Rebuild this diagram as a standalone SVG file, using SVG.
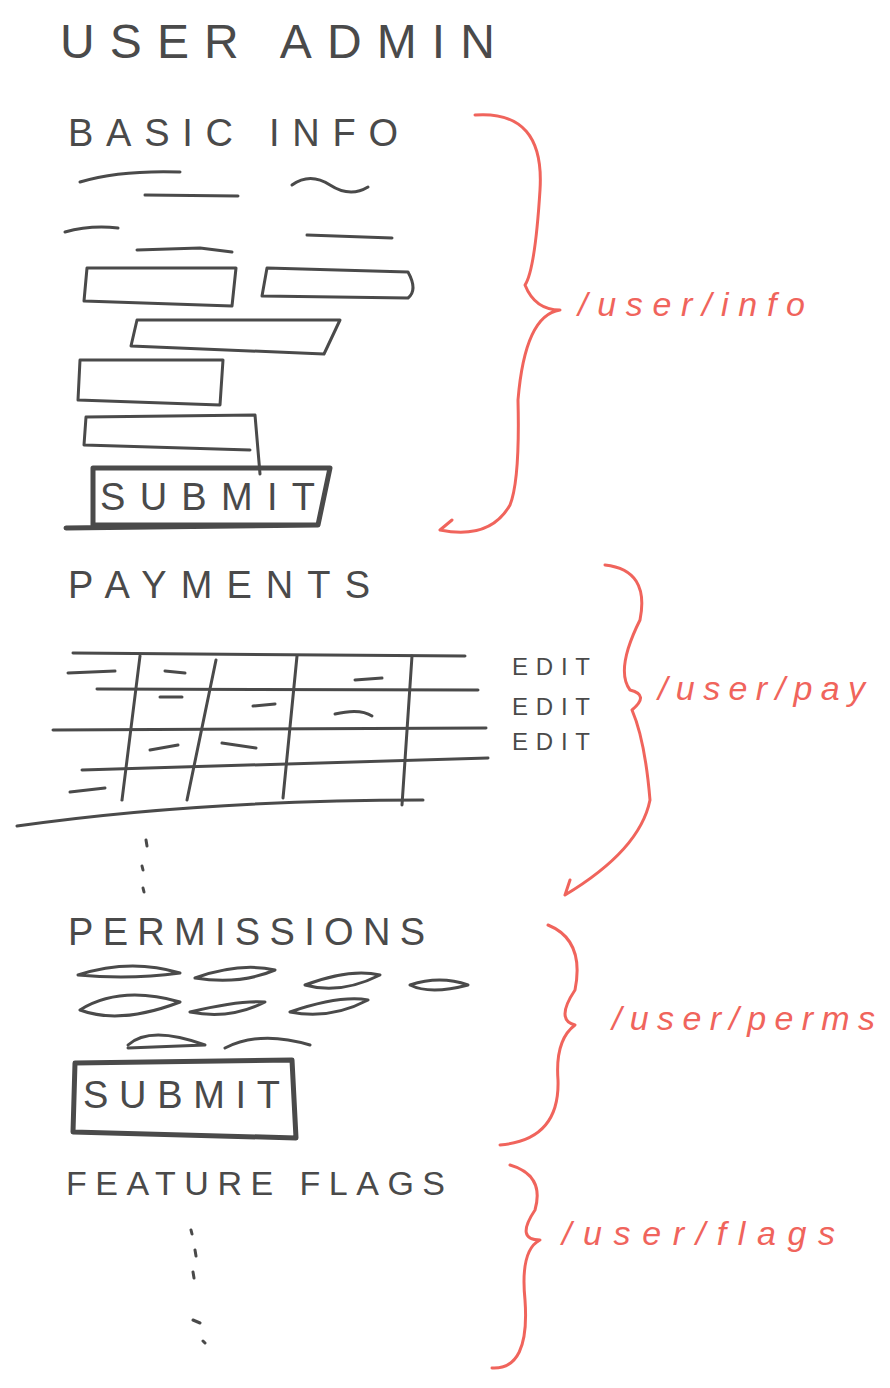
<svg xmlns="http://www.w3.org/2000/svg" width="890" height="1388" viewBox="0 0 890 1388">
<style>
.g{fill:none;stroke:#4a4a4a;stroke-width:3;stroke-linecap:round;stroke-linejoin:round}
.b{fill:none;stroke:#4a4a4a;stroke-width:5;stroke-linecap:round;stroke-linejoin:round}
.r{fill:none;stroke:#f0645c;stroke-width:3;stroke-linecap:round;stroke-linejoin:round}
.t{font-family:"Liberation Sans",sans-serif;fill:#4a4a4a}
.rt{font-family:"Liberation Sans",sans-serif;fill:#f0645c;font-style:italic}
</style>
<rect width="890" height="1388" fill="#fff"/>
<text class="t" x="60" y="58" font-size="48" textLength="435" lengthAdjust="spacing">USER ADMIN</text>
<text class="t" x="68" y="146" font-size="38" textLength="330" lengthAdjust="spacing">BASIC INFO</text>
<g class="g">
<path d="M80 182 Q120 170 180 172"/><path d="M145 195 L238 196"/><path d="M292 185 Q310 172 330 185 T368 187"/>
<path d="M65 232 Q90 225 118 228"/><path d="M137 250 L200 248 L232 252"/><path d="M307 235 L392 238"/>
<path d="M87 268 L236 268 L232 306 L84 301 Z"/><path d="M267 268 L408 272 Q418 290 408 298 L262 296 Z"/>
<path d="M137 320 L340 320 L324 354 L131 346 Z"/><path d="M80 360 L223 360 L220 405 L78 400 Z"/>
<path d="M86 417 L255 415 L260 474 M86 417 L84 445 L250 450"/>
</g>
<path class="b" d="M93 468 L330 468 L318 525 L93 525 Z M66 528 L318 525"/>
<text class="t" x="100" y="510" font-size="38" textLength="215" lengthAdjust="spacing">SUBMIT</text>
<text class="t" x="68" y="598" font-size="38" textLength="302" lengthAdjust="spacing">PAYMENTS</text>
<g class="g">
<path d="M73 653 L465 656"/><path d="M97 689 L478 690"/><path d="M53 730 L486 728"/><path d="M82 770 L488 758"/><path d="M17 826 Q200 800 423 800"/>
<path d="M140 656 L122 800"/><path d="M216 660 L187 800"/><path d="M297 656 L283 798"/><path d="M412 656 L402 805"/>
<path d="M68 673 L115 671"/><path d="M165 671 L185 673"/><path d="M160 697 L182 697"/><path d="M253 706 L275 704"/><path d="M355 680 L382 678"/><path d="M335 714 Q360 708 372 716"/><path d="M150 750 L178 745"/><path d="M222 743 L256 748"/><path d="M70 792 L105 788"/>
<path d="M146 840 L147 846 M142 866 L143 870 M143 888 L144 892"/>
</g>
<text class="t" x="512" y="675" font-size="24" textLength="78" lengthAdjust="spacing">EDIT</text>
<text class="t" x="512" y="715" font-size="24" textLength="78" lengthAdjust="spacing">EDIT</text>
<text class="t" x="512" y="750" font-size="24" textLength="78" lengthAdjust="spacing">EDIT</text>
<text class="t" x="68" y="945" font-size="38" textLength="357" lengthAdjust="spacing">PERMISSIONS</text>
<g class="g">
<path d="M78 975 Q130 958 180 973 Q130 980 78 975"/><path d="M195 978 Q240 962 275 970 Q240 985 195 978"/><path d="M305 985 Q350 968 380 975 Q340 995 305 985"/><path d="M410 985 Q440 975 468 985 Q430 995 410 985"/>
<path d="M80 1010 Q120 985 180 1002 Q120 1025 80 1010"/><path d="M190 1012 Q240 1000 265 1002 Q230 1020 190 1012"/><path d="M290 1012 Q340 995 368 1000 Q330 1020 290 1012"/>
<path d="M128 1045 Q150 1025 205 1045 L128 1048"/><path d="M225 1048 Q260 1030 310 1045"/>
<path d="M191 1230 L192 1234 M195 1250 L196 1256 M193 1272 L194 1278 M193 1320 L200 1323 M203 1341 L205 1343"/>
</g>
<path class="b" d="M75 1063 L292 1060 L296 1138 L73 1132 Z"/>
<text class="t" x="83" y="1108" font-size="38" textLength="197" lengthAdjust="spacing">SUBMIT</text>
<text class="t" x="66" y="1195" font-size="34" textLength="379" lengthAdjust="spacing">FEATURE FLAGS</text>
<g class="r">
<path d="M475 115 Q545 110 540 190 Q535 270 525 285 Q535 310 560 310 Q525 315 518 400 Q520 480 510 505 Q490 540 440 530 M440 530 L452 520"/>
<path d="M605 565 Q650 570 640 620 Q615 670 630 690 Q650 695 632 710 Q645 740 650 800 Q640 850 565 895 M565 895 L570 880"/>
<path d="M548 925 Q585 940 575 990 Q555 1020 575 1025 Q555 1040 558 1080 Q560 1140 500 1145"/>
<path d="M510 1165 Q545 1175 535 1210 Q515 1240 540 1240 Q520 1250 525 1300 Q530 1370 492 1368"/>
</g>
<text class="rt" x="578" y="316" font-size="34" textLength="227" lengthAdjust="spacing">/user/info</text>
<text class="rt" x="658" y="700" font-size="34" textLength="207" lengthAdjust="spacing">/user/pay</text>
<text class="rt" x="612" y="1030" font-size="34" textLength="263" lengthAdjust="spacing">/user/perms</text>
<text class="rt" x="562" y="1245" font-size="34" textLength="273" lengthAdjust="spacing">/user/flags</text>
</svg>
